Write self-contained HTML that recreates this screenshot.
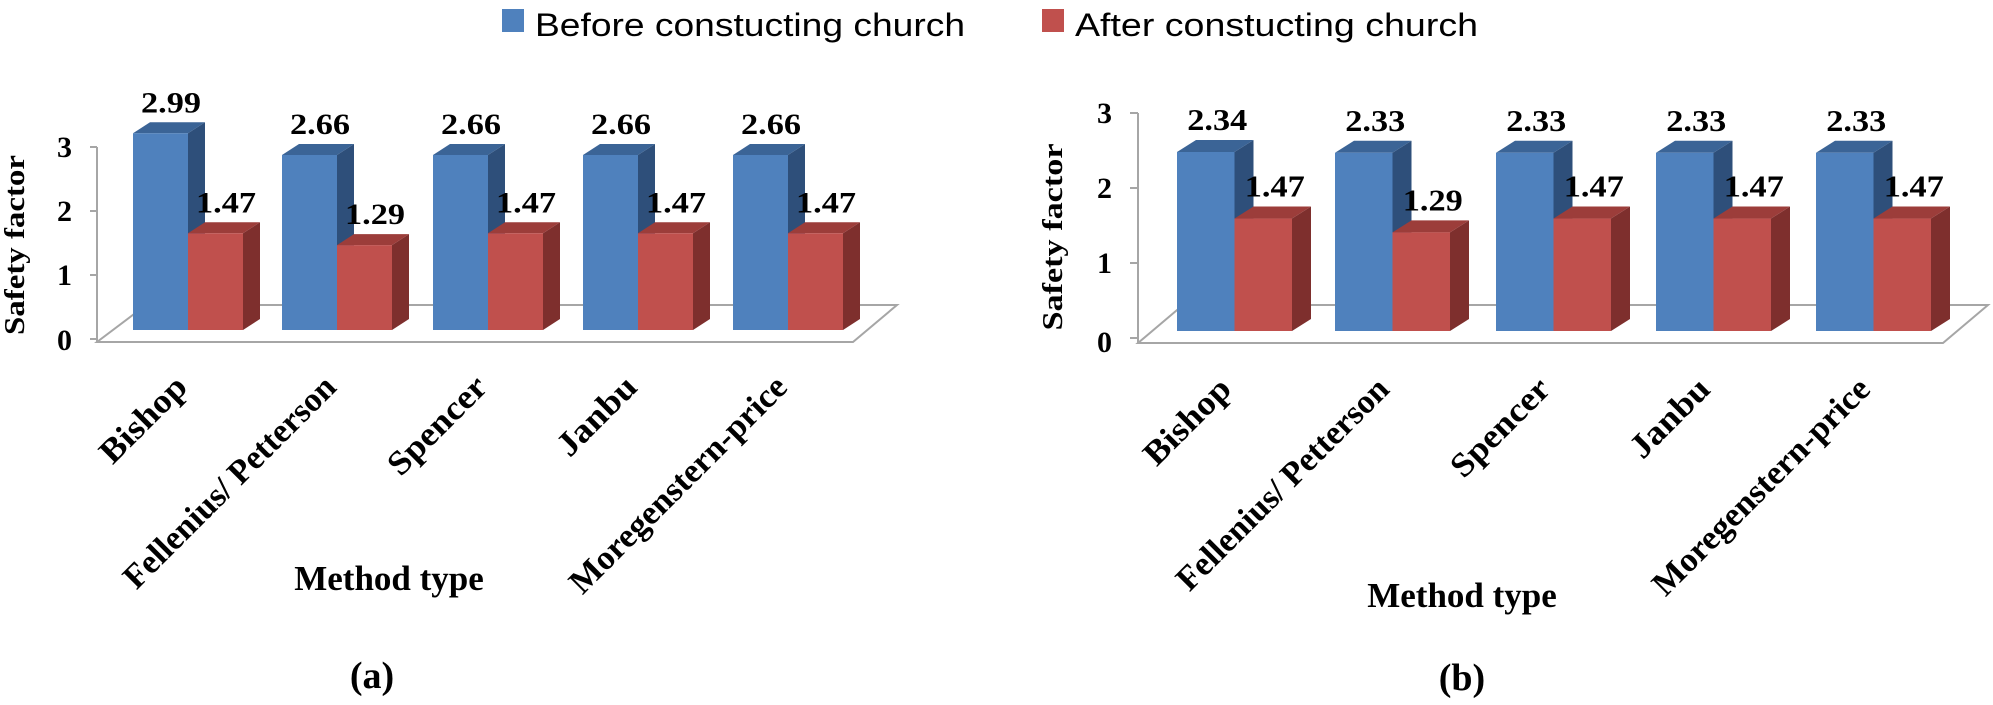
<!DOCTYPE html>
<html><head><meta charset="utf-8"><style>
html,body{margin:0;padding:0;background:#fff;}
svg{display:block;}
.t{font-family:"Liberation Serif",serif;font-weight:bold;fill:#000;}
.l{font-family:"Liberation Sans",sans-serif;fill:#000;}
</style></head><body>
<svg id="s" width="1993" height="705" viewBox="0 0 1993 705" xmlns="http://www.w3.org/2000/svg">
<rect width="1993" height="705" fill="#fff"/>
<!-- legend -->
<rect x="502" y="9" width="22" height="23" fill="#4F81BD"/>
<text class="l" x="535" y="36" font-size="32" textLength="430" lengthAdjust="spacingAndGlyphs">Before constucting church</text>
<rect x="1042" y="9" width="22" height="23" fill="#C0504D"/>
<text class="l" x="1075" y="36" font-size="32" textLength="403" lengthAdjust="spacingAndGlyphs">After constucting church</text>

<!-- chart a floor/axis -->
<g stroke="#a6a6a6" stroke-width="2" fill="none">
<polygon points="97,342 853,342 897,305 146,305"/>
<line x1="97" y1="147" x2="97" y2="342"/>
<line x1="90" y1="147" x2="97" y2="147"/><line x1="90" y1="211" x2="97" y2="211"/>
<line x1="90" y1="275" x2="97" y2="275"/><line x1="90" y1="339" x2="97" y2="339"/>
</g>
<!-- chart b floor/axis -->
<g stroke="#a6a6a6" stroke-width="2" fill="none">
<polygon points="1138,343 1943,343 1988,305 1183,305"/>
<line x1="1138" y1="113" x2="1138" y2="343"/>
<line x1="1130" y1="113" x2="1138" y2="113"/><line x1="1130" y1="188" x2="1138" y2="188"/>
<line x1="1130" y1="263" x2="1138" y2="263"/><line x1="1130" y1="338" x2="1138" y2="338"/>
</g>
<g id="bars"></g>

<!-- tick labels -->
<g class="t" font-size="30" text-anchor="end">
<text x="72" y="157">3</text><text x="72" y="221">2</text><text x="72" y="285">1</text><text x="72" y="350">0</text>
<text x="1112" y="123">3</text><text x="1112" y="198">2</text><text x="1112" y="273">1</text><text x="1112" y="352">0</text>
</g>
<text class="t" font-size="28" text-anchor="middle" transform="translate(24,245) rotate(-90)" textLength="180" lengthAdjust="spacingAndGlyphs">Safety factor</text>
<text class="t" font-size="28" text-anchor="middle" transform="translate(1062,237) rotate(-90)" textLength="187" lengthAdjust="spacingAndGlyphs">Safety factor</text>

<text class="t" font-size="35" x="389" y="590" text-anchor="middle">Method type</text>
<text class="t" font-size="38" x="372" y="688" text-anchor="middle">(a)</text>
<text class="t" font-size="35" x="1462" y="607" text-anchor="middle">Method type</text>
<text class="t" font-size="38" x="1462" y="690" text-anchor="middle">(b)</text>
</svg>
<script>
(function(){
var NS="http://www.w3.org/2000/svg",g=document.getElementById("bars");
function el(n,a,txt){var e=document.createElementNS(NS,n);for(var k in a)e.setAttribute(k,a[k]);if(txt)e.textContent=txt;g.appendChild(e);return e;}
function poly(p,f){el("polygon",{points:p.map(function(q){return q[0]+","+q[1];}).join(" "),fill:f});}
function bar(x,w,bot,h,dx,dy,c){
 var top=bot-h;
 poly([[x+w,top],[x+w+dx,top-dy],[x+w+dx,bot-dy],[x+w,bot]],c[2]);
 poly([[x,top],[x+dx,top-dy],[x+w+dx,top-dy],[x+w,top]],c[1]);
 el("rect",{x:x,y:top,width:w,height:h,fill:c[0]});
}
var B=["#4F81BD","#3B6496","#2E4F7A"],R=["#C0504D","#9C3D3A","#7E2F2D"];
var TL=[108,285,125,98,292];
function chart(gs,w,bot,k,dx,dy,bv,rv,fs,cats,cy){
 for(var i=0;i<gs.length;i++){
  var x=gs[i];
  bar(x,w,bot,bv[i]*k,dx,dy,B);
  bar(x+w,w,bot,rv[i]*k,dx,dy,R);
 }
 for(var i=0;i<gs.length;i++){
  var x=gs[i];
  el("text",{"class":"t","font-size":fs,x:x+w/2+dx/2+2,y:bot-bv[i]*k-dy-10,"text-anchor":"middle",textLength:60,lengthAdjust:"spacingAndGlyphs"},bv[i].toFixed(2));
  el("text",{"class":"t","font-size":fs,x:x+w+w/2+dx/2+2,y:bot-rv[i]*k-dy-10,"text-anchor":"middle",textLength:60,lengthAdjust:"spacingAndGlyphs"},rv[i].toFixed(2));
  el("text",{"class":"t","font-size":34,"text-anchor":"end",textLength:TL[i],lengthAdjust:"spacingAndGlyphs",transform:"translate("+(x+56)+","+cy+") rotate(-45)"},cats[i]);
 }
}
var cats=["Bishop","Fellenius/ Petterson","Spencer","Janbu","Moregenstern-price"];
chart([133,282,433,583,733],55,330,65.8,17,11,[2.99,2.66,2.66,2.66,2.66],[1.47,1.29,1.47,1.47,1.47],30,cats,389);
chart([1177,1335,1496,1656,1816],57.5,331,76.5,19,12,[2.34,2.33,2.33,2.33,2.33],[1.47,1.29,1.47,1.47,1.47],31,cats,391);
})();
</script>
</body></html>
